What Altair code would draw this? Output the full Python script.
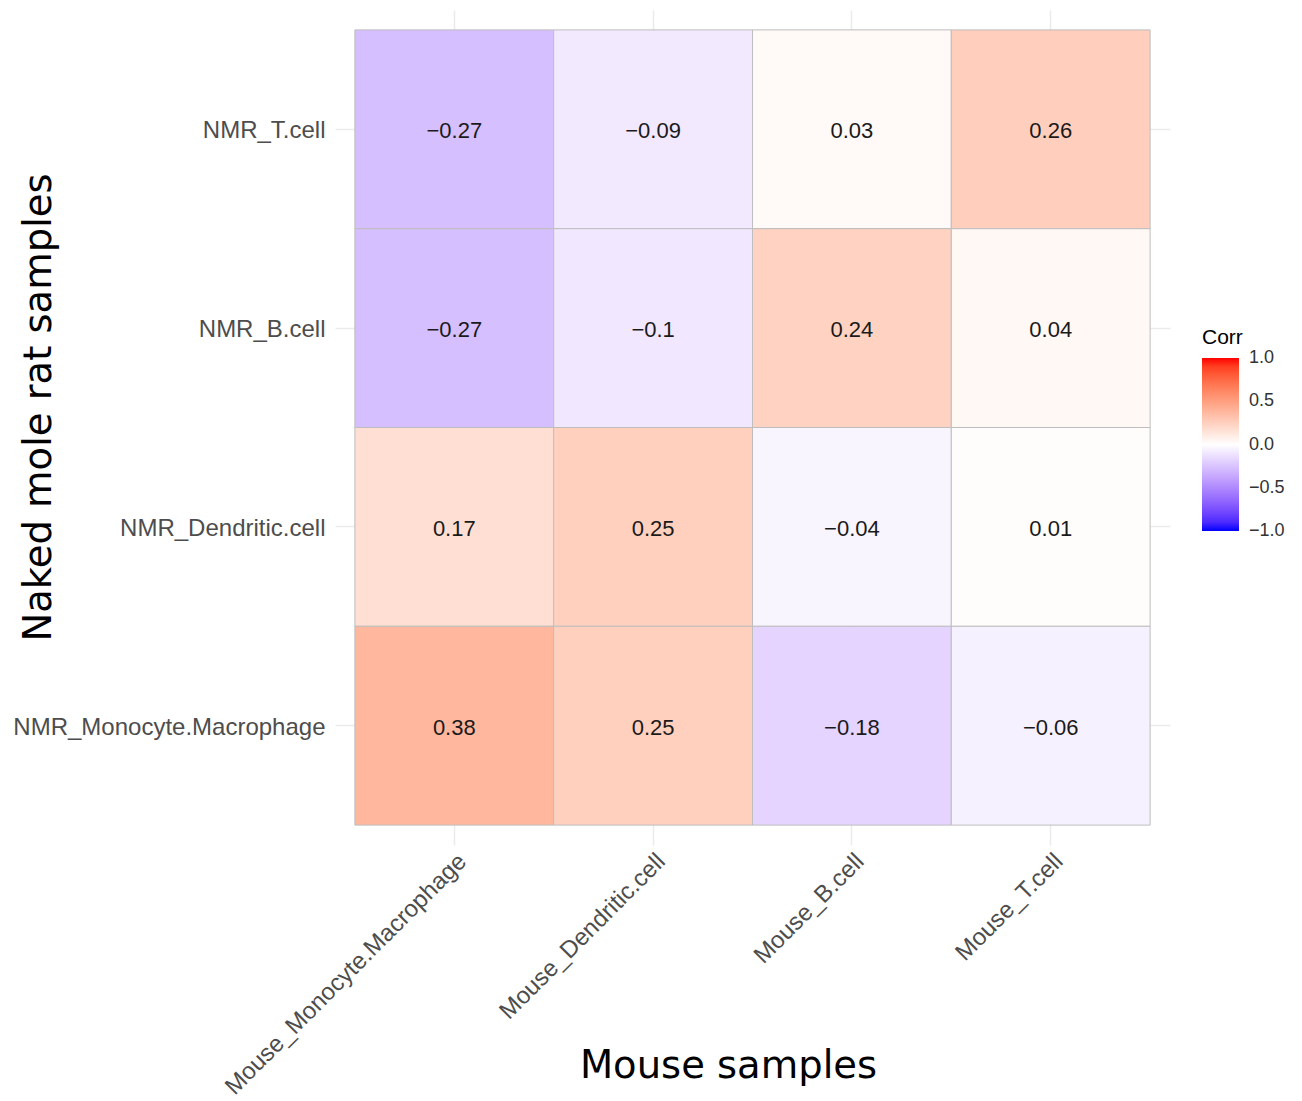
import altair as alt
import pandas as pd

# Correlation of cell-type signatures between species
mouse_samples = [
    "Mouse_Monocyte.Macrophage",
    "Mouse_Dendritic.cell",
    "Mouse_B.cell",
    "Mouse_T.cell",
]
nmr_samples = [
    "NMR_T.cell",
    "NMR_B.cell",
    "NMR_Dendritic.cell",
    "NMR_Monocyte.Macrophage",
]
# one row per NMR sample, columns follow mouse_samples
corr_t_cell = [-0.27, -0.09, 0.03, 0.26]
corr_b_cell = [-0.27, -0.10, 0.24, 0.04]
corr_dendritic = [0.17, 0.25, -0.04, 0.01]
corr_monocyte = [0.38, 0.25, -0.18, -0.06]

rows = [corr_t_cell, corr_b_cell, corr_dendritic, corr_monocyte]
records = []
for nmr, vals in zip(nmr_samples, rows):
    for mouse, v in zip(mouse_samples, vals):
        records.append({"mouse": mouse, "nmr": nmr, "corr": v})
df = pd.DataFrame(records)

LABEL_FONT = "Liberation Sans"
TITLE_FONT = "DejaVu Sans"

x_scale = alt.Scale(domain=mouse_samples, paddingInner=0, paddingOuter=0.1)
y_scale = alt.Scale(domain=nmr_samples, paddingInner=0, paddingOuter=0.1)
# diverging blue-white-red scale on [-1, 1]; the tiny margin keeps the
# end labels of the colour bar centred on the bar ends
color_scale = alt.Scale(
    domain=[-1.0005, 0, 1.0005], range=["blue", "white", "red"], interpolate="lab"
)

x_enc = alt.X(
    "mouse:N",
    scale=x_scale,
    sort=mouse_samples,
    axis=alt.Axis(
        title="Mouse samples",
        titleFont=TITLE_FONT,
        titleFontSize=38.5,
        titleFontWeight="normal",
        titleColor="black",
        titleX=393,
        titleY=232,
        titleBaseline="alphabetic",
        titleAlign="center",
        labelAngle=315,
        labelAlign="right",
        labelBaseline="top",
        labelFont=LABEL_FONT,
        labelFontSize=24,
        labelColor="#4d4d4d",
        labelPadding=4,
        labelLimit=600,
        ticks=False,
        domain=False,
        grid=True,
        gridColor="#ebebeb",
        gridWidth=1.5,
        bandPosition=0.5,
        zindex=0,
    ),
)
y_enc = alt.Y(
    "nmr:N",
    scale=y_scale,
    sort=nmr_samples,
    axis=alt.Axis(
        title="Naked mole rat samples",
        titleFont=TITLE_FONT,
        titleFontSize=38.5,
        titleFontWeight="normal",
        titleColor="black",
        titleX=-285,
        titleY=397,
        titleAngle=270,
        titleBaseline="alphabetic",
        titleAlign="center",
        labelFont=LABEL_FONT,
        labelFontSize=24,
        labelColor="#4d4d4d",
        labelPadding=10,
        labelOffset=2,
        labelLimit=600,
        ticks=False,
        domain=False,
        grid=True,
        gridColor="#ebebeb",
        gridWidth=1.5,
        bandPosition=0.5,
        zindex=0,
    ),
)

base = alt.Chart(df).encode(x=x_enc, y=y_enc)

tiles = base.mark_rect(stroke="#bebebe", strokeWidth=1, opacity=1).encode(
    color=alt.Color(
        "corr:Q",
        scale=color_scale,
        legend=alt.Legend(
            title="Corr",
            titleFont=LABEL_FONT,
            titleFontSize=21,
            titleFontWeight="normal",
            titleColor="black",
            titlePadding=10,
            labelFont=LABEL_FONT,
            labelFontSize=18,
            labelColor="#333333",
            labelOffset=10,
            labelOverlap=False,
            values=[-1, -0.5, 0, 0.5, 1],
            format=".1f",
            gradientLength=173,
            gradientThickness=37,
            gradientStrokeWidth=0,
            orient="none",
            legendX=867,
            legendY=317,
        ),
    ),
)

labels = base.mark_text(font=LABEL_FONT, fontSize=22, color="#1a1a1a", dy=2).encode(
    text=alt.Text("corr:Q", format=".2~f"),
)

chart = (
    alt.layer(tiles, labels)
    .properties(
        width=835,
        height=835,
        padding={"left": 335, "top": 10, "right": 132, "bottom": 256},
        autosize=alt.AutoSizeParams(type="none"),
        background="white",
    )
    .configure_view(stroke=None)
)

chart.save("out.html", embed_options={"renderer": "svg", "actions": False})
